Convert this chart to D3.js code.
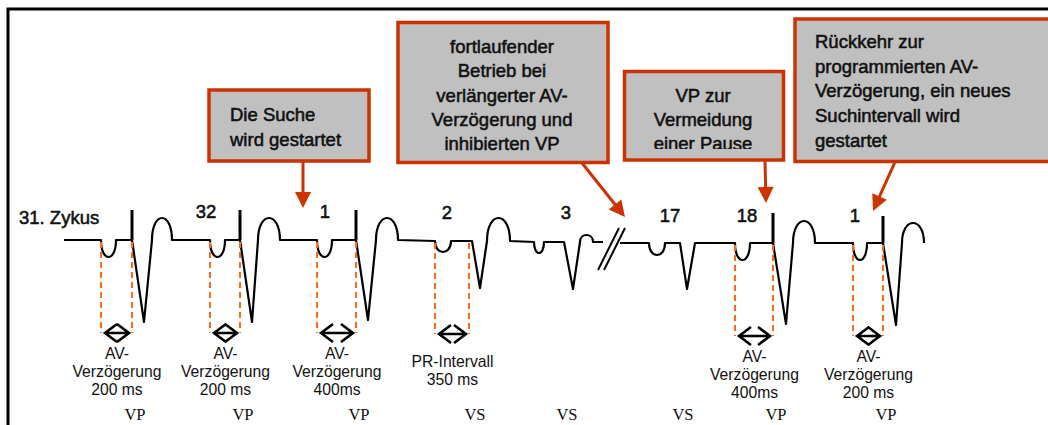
<!DOCTYPE html>
<html>
<head>
<meta charset="utf-8">
<script src="https://cdn.jsdelivr.net/npm/d3@7"></script>
<style>
body { margin: 0; background: #fff; }
svg { display: block; }
text { font-family: "Liberation Sans", Arial, sans-serif; fill: #111; }
.serif { font-family: "Liberation Serif", "Times New Roman", serif; }
.heavy { stroke: #111; stroke-width: 0.55px; }
</style>
</head>
<body>
<svg id="chart"></svg>
<script>
// Zyklen (Zeitachse in Schema-Einheiten)
var cycleLabels = ["31. Zykus", "32", "1", "2", "3", "17", "18", "1"];
var pOnset   = [101, 210, 317, 435, 534, 649, 735, 853];
var pOffset  = [116, 225, 332, 451, 544, 665, 750, 867];
var vEvent   = [132, 240, 356, 472, 564, 680, 773, 883];
var qrsNadir = [144, 252, 368, 480, 573, 687, 786, 896];
var tStart   = [152, 258, 376, 487, 580, 695, 793, 902];
var tEnd     = [172, 280, 398, 510, 593, 695, 815, 924];

// Amplituden relativ zur Grundlinie
var baseline = [0, 0, 0, -0.01, -0.02, -0.03, -0.03, -0.03];
var pAmp     = [-0.17, -0.17, -0.17, -0.11, -0.11, -0.12, -0.17, -0.17];
var qrsAmp   = [-0.82, -0.82, -0.80, -0.47, -0.47, -0.46, -0.81, -0.82];
var tAmp     = [0.22, 0.22, 0.22, 0.23, 0.07, 0, 0.22, 0.20];
var spikeAmp = [0.30, 0.30, 0.30, 0, 0, 0, 0.30, 0.27];

var ventMode = ["VP", "VP", "VP", "VS", "VS", "VS", "VP", "VP"];

// gemessene Intervalle
var intervalCycle = [0, 1, 2, 3, 6, 7];
var intervalText = [
  ["AV-", "Verzögerung", "200 ms"],
  ["AV-", "Verzögerung", "200 ms"],
  ["AV-", "Verzögerung", "400ms"],
  ["PR-Intervall", "350 ms"],
  ["AV-", "Verzögerung", "400ms"],
  ["AV-", "Verzögerung", "200 ms"]
];

var noteText = [
  ["Die Suche", "wird gestartet"],
  ["fortlaufender", "Betrieb bei", "verlängerter AV-", "Verzögerung und", "inhibierten VP"],
  ["VP zur", "Vermeidung", "einer Pause"],
  ["Rückkehr zur", "programmierten AV-", "Verzögerung, ein neues", "Suchintervall wird", "gestartet"]
];

// Layout
var width = 1048, height = 425;
var traceStart = 64, breakAt = 611;
var labelX = [19, 206, 325, 447, 566, 670, 747, 855];
var labelY = [224, 218, 218, 219, 219, 222, 222, 222];
var notes = [
  {x: 209, y: 90, w: 160, h: 71, tx: 230, anchor: "start", ty: 121, lh: 24.5, from: [303, 161], to: [303, 208]},
  {x: 398, y: 22.5, w: 210, h: 140, tx: 502, anchor: "middle", ty: 53, lh: 24.3, from: [582, 163], to: [625, 217]},
  {x: 624.5, y: 71.5, w: 159, h: 88.5, tx: 703, anchor: "middle", ty: 102, lh: 24, from: [765, 160], to: [766, 203]},
  {x: 795, y: 19, w: 300, h: 142.5, tx: 815, anchor: "start", ty: 48, lh: 24.7, from: [895, 162], to: [873, 211]}
];
var red = "#cc3300", orange = "#ff6a13";

var x = d3.scaleLinear().domain([0, width]).range([0, width]);
var y = d3.scaleLinear().domain([0, 1]).range([240, 140]);

var svg = d3.select("#chart").attr("width", width).attr("height", height);

svg.append("defs").append("clipPath").attr("id", "clip3")
  .append("rect").attr("x", 620).attr("y", 60).attr("width", 170).attr("height", 89);

// Rahmen
svg.append("path")
  .attr("d", "M" + x(8) + "," + height + "V9H" + width)
  .attr("fill", "none").attr("stroke", "#000").attr("stroke-width", 3);

// EKG-Kurve
var p = d3.path();
p.moveTo(x(traceStart), y(baseline[0]));
cycleLabels.forEach(function (d, i) {
  var b = baseline[i];
  var y0 = y(b);
  if (i > 0 && pOnset[i] > breakAt && tEnd[i - 1] < breakAt) {
    p.lineTo(x(breakAt - 8), y(baseline[i - 1]));
    p.moveTo(x(breakAt + 9), y0);
  }
  p.lineTo(x(pOnset[i]), y0);
  var pd = y(b + pAmp[i] * 4 / 3);
  p.bezierCurveTo(x(pOnset[i]), pd, x(pOffset[i]), pd, x(pOffset[i]), y0);
  p.lineTo(x(vEvent[i]), y0);
  p.lineTo(x(qrsNadir[i]), y(b + qrsAmp[i]));
  p.lineTo(x(tStart[i]), y0);
  var tp = y(b + tAmp[i] * 4 / 3);
  p.bezierCurveTo(x(tStart[i]), tp, x(tEnd[i]), tp, x(tEnd[i]), y0);
});
svg.append("path").attr("d", p.toString())
  .attr("fill", "none").attr("stroke", "#000").attr("stroke-width", 2.2)
  .attr("stroke-linejoin", "round");

// Stimulationsspikes
var paced = d3.range(vEvent.length).filter(function (i) { return spikeAmp[i] > 0; });
svg.selectAll(".spike").data(paced).enter().append("line")
  .attr("x1", function (i) { return x(vEvent[i]); })
  .attr("x2", function (i) { return x(vEvent[i]); })
  .attr("y1", function (i) { return y(baseline[i]); })
  .attr("y2", function (i) { return y(baseline[i] + spikeAmp[i]); })
  .attr("stroke", "#000").attr("stroke-width", 3);

// Unterbrechung //
[0, 6].forEach(function (off) {
  svg.append("line")
    .attr("x1", x(breakAt - 13 + off)).attr("y1", 270)
    .attr("x2", x(breakAt + 8 + off)).attr("y2", 228)
    .attr("stroke", "#000").attr("stroke-width", 2);
});

// Zyklusnummern
svg.selectAll(".cyc").data(cycleLabels).enter().append("text")
  .attr("class", "heavy")
  .attr("x", function (d, i) { return labelX[i]; })
  .attr("y", function (d, i) { return labelY[i]; })
  .attr("text-anchor", function (d, i) { return i == 0 ? "start" : "middle"; })
  .style("font-size", "18.5px")
  .text(function (d) { return d; });

// Intervalle: gestrichelte Linien, Doppelpfeile, Beschriftung
intervalCycle.forEach(function (c, k) {
  var y0 = y(baseline[c]);
  var ay = y0 + 93;
  var x1 = x(pOnset[c]), x2 = x(vEvent[c]) - (ventMode[c] == "VS" ? 3 : 0);
  [x1, x2].forEach(function (xx) {
    svg.append("line").attr("x1", xx).attr("x2", xx).attr("y1", y0 + 2).attr("y2", ay)
      .attr("stroke", orange).attr("stroke-width", 2).attr("stroke-dasharray", "6,4");
  });
  var a1 = x1 + 4, a2 = x2 - 3, hw = 12, hh = 9;
  var ap = d3.path();
  ap.moveTo(a1, ay); ap.lineTo(a2, ay);
  ap.moveTo(a1 + hw, ay - hh); ap.lineTo(a1, ay); ap.lineTo(a1 + hw, ay + hh);
  ap.moveTo(a2 - hw, ay - hh); ap.lineTo(a2, ay); ap.lineTo(a2 - hw, ay + hh);
  svg.append("path").attr("d", ap.toString())
    .attr("fill", "none").attr("stroke", "#000").attr("stroke-width", 2.6);
  var lines = intervalText[k];
  var ty = ay + (lines.length == 2 ? 33 : 26);
  svg.append("text")
    .attr("x", (a1 + a2) / 2).attr("y", ty)
    .attr("text-anchor", "middle")
    .style("font-size", "15.7px")
    .selectAll("tspan").data(lines).enter().append("tspan")
    .attr("x", (a1 + a2) / 2)
    .attr("dy", function (d, i) { return i == 0 ? 0 : 17.8; })
    .text(function (d) { return d; });
});

// VP / VS
svg.selectAll(".mode").data(ventMode).enter().append("text")
  .attr("class", "serif")
  .attr("x", function (d, i) { return x(vEvent[i]) + 3; })
  .attr("y", 420)
  .attr("text-anchor", "middle")
  .style("font-size", "16.5px")
  .text(function (d) { return d; });

// Hinweisboxen mit Pfeilen
notes.forEach(function (n, k) {
  svg.append("rect")
    .attr("x", n.x).attr("y", n.y).attr("width", n.w).attr("height", n.h)
    .attr("fill", "#c0c0c0").attr("stroke", red).attr("stroke-width", 3.5);
  var g = svg.append("g");
  if (k == 2) g.attr("clip-path", "url(#clip3)");
  g.append("text")
    .attr("class", "heavy")
    .attr("text-anchor", n.anchor)
    .style("font-size", "18.5px")
    .selectAll("tspan").data(noteText[k]).enter().append("tspan")
    .attr("x", n.tx)
    .attr("y", function (d, i) { return n.ty + i * n.lh; })
    .text(function (d) { return d; });

  var dx = n.to[0] - n.from[0], dy = n.to[1] - n.from[1];
  var len = Math.sqrt(dx * dx + dy * dy), ux = dx / len, uy = dy / len;
  var hl = 16, hw = 8;
  var bx = n.to[0] - ux * hl, by = n.to[1] - uy * hl;
  svg.append("line")
    .attr("x1", n.from[0]).attr("y1", n.from[1])
    .attr("x2", bx + ux * 2).attr("y2", by + uy * 2)
    .attr("stroke", red).attr("stroke-width", 3);
  svg.append("path")
    .attr("d", "M" + n.to[0] + "," + n.to[1] +
      "L" + (bx - uy * hw) + "," + (by + ux * hw) +
      "L" + (bx + uy * hw) + "," + (by - ux * hw) + "Z")
    .attr("fill", red);
});
</script>
</body>
</html>
